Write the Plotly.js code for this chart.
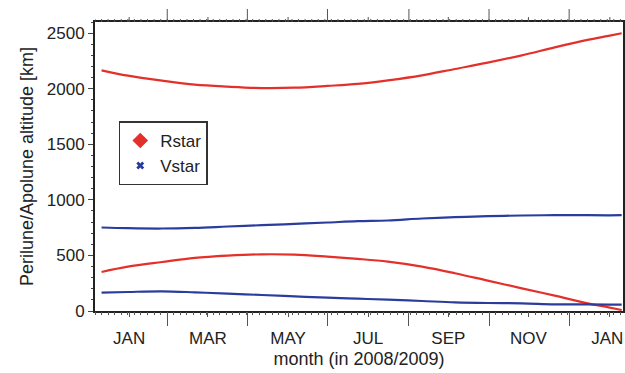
<!DOCTYPE html>
<html><head><meta charset="utf-8">
<script src="https://cdn.plot.ly/plotly-3.0.1.min.js"></script>
<style>html,body{margin:0;padding:0;background:#fff}#chart{width:625px;height:373px}</style>
</head><body><div id="chart"></div>
<script>
var dates = ['2008-01-11','2008-01-31','2008-02-26','2008-03-22','2008-04-16','2008-05-12','2008-06-06','2008-07-01','2008-07-24',
             '2008-08-16','2008-09-11','2008-10-06','2008-10-31','2008-11-26','2008-12-21','2009-01-15','2009-01-31','2009-02-10'];
var rstarApolune  = [2165,2117,2072,2036,2018,2006,2009,2025,2043,2075,2120,2177,2234,2300,2372,2439,2475,2499];
var rstarPerilune = [351,399,441,478,498,510,507,489,469,444,399,340,273,204,138,69,33,9];
var vstarApolune  = [751,745,742,748,760,772,784,796,808,814,832,844,853,859,862,862,861,862];
var vstarPerilune = [165,171,177,168,156,144,132,120,111,102,90,78,72,69,60,60,58,57];
var monthTickVals = ['2008-02-01','2008-04-01','2008-06-01','2008-08-01','2008-10-01','2008-12-01','2009-01-30'];
var monthTickText = ['JAN','MAR','MAY','JUL','SEP','NOV','JAN'];
var seriesNames = ['Rstar','Vstar'];

var RED = '#e3302a', BLUE = '#2a3d9c';
var xr = ['2008-01-06','2009-02-11'];
var font = 'Liberation Sans, Arial, Helvetica, sans-serif';
var DAY = 86400000;
var PLOT_H = 373 - 22 - 62;

function line(y, c){ return {x: dates, y: y, mode: 'lines', line: {color: c, width: 2.2, shape: 'spline'}, showlegend: false, hoverinfo: 'skip'}; }
var traces = [
  line(rstarApolune, RED), line(rstarPerilune, RED),
  line(vstarApolune, BLUE), line(vstarPerilune, BLUE),
  {x: [null], y: [null], mode: 'markers', name: seriesNames[0], marker: {symbol: 'diamond', color: RED, size: 12}},
  {x: [null], y: [null], mode: 'markers', name: seriesNames[1], marker: {symbol: 'x', color: BLUE, size: 7}}
];

function tickAxis(side, dtick, len){
  return {type: 'date', range: xr, overlaying: 'x', side: side, showline: false,
          ticks: 'outside', tick0: '2008-01-01', dtick: dtick, ticklen: len, tickwidth: 1, tickcolor: '#555',
          showticklabels: false, showgrid: false, zeroline: false};
}

// top-frame tick marks (axis decoration), derived from the calendar
var shapes = [];
function topTick(d, len){
  shapes.push({type: 'line', xref: 'x', yref: 'paper', x0: d, x1: d, y0: 1, y1: 1 + len / PLOT_H,
               line: {color: '#555', width: 1}});
}
(function(){
  var start = Date.UTC(2008, 0, 1), end = Date.UTC(2009, 1, 12);
  for (var m = 0; m < 14; m++) {
    var t = Date.UTC(2008, m, 1);
    topTick(new Date(t).toISOString().slice(0, 10), m % 2 === 0 ? 13 : 5);
  }
  for (var t2 = start; t2 <= end; t2 += 5 * DAY) {
    topTick(new Date(t2).toISOString().slice(0, 10), 3);
  }
})();

var layout = {
  width: 625, height: 373,
  margin: {l: 95, r: 2, t: 22, b: 62},
  paper_bgcolor: '#fff', plot_bgcolor: '#fff',
  font: {family: font, size: 17, color: '#222'},
  showlegend: true,
  legend: {x: 0.045, y: 0.656, xanchor: 'left', yanchor: 'top', bgcolor: '#fff', bordercolor: '#333', borderwidth: 1.5,
           font: {size: 17}, itemwidth: 30, tracegroupgap: 0},
  shapes: shapes,
  xaxis: {type: 'date', range: xr, showline: true, linecolor: '#222', linewidth: 2, mirror: true,
          ticks: 'outside', tick0: '2008-01-01', dtick: 'M2', ticklen: 13, tickwidth: 1, tickcolor: '#555',
          showticklabels: false, showgrid: false, zeroline: false},
  xaxis3: tickAxis('bottom', 'M1', 5),
  xaxis4: tickAxis('bottom', 5*DAY, 3),
  xaxis2: {type: 'date', range: xr, overlaying: 'x', side: 'bottom', showline: false,
           tickmode: 'array', tickvals: monthTickVals, ticktext: monthTickText, ticklabeloverflow: 'allow',
           ticks: 'outside', ticklen: 12, tickcolor: 'rgba(0,0,0,0)', tickfont: {size: 17, color: '#222'},
           showgrid: false, zeroline: false,
           title: {text: 'month (in 2008/2009)', font: {size: 18, color: '#222'}, standoff: 4}},
  yaxis: {range: [0, 2600], showline: true, linecolor: '#222', linewidth: 2, mirror: true,
          ticks: 'outside', dtick: 500, ticklen: 5, tickwidth: 1, tickcolor: '#444',
          tickfont: {size: 17, color: '#222'}, showgrid: false, zeroline: false,
          minor: {ticks: 'outside', dtick: 100, ticklen: 2.5, tickwidth: 1, tickcolor: '#444', showgrid: false},
          title: {text: 'Perilune/Apolune altitude [km]', font: {size: 18, color: '#222'}, standoff: 8}}
};
['x2','x3','x4'].forEach(function(a){
  traces.push({x: dates, y: rstarApolune, xaxis: a, mode: 'lines', line: {width: 0, color: 'rgba(0,0,0,0)'}, opacity: 0, showlegend: false, hoverinfo: 'skip'});
});
Plotly.newPlot('chart', traces, layout, {staticPlot: true});
</script></body></html>
